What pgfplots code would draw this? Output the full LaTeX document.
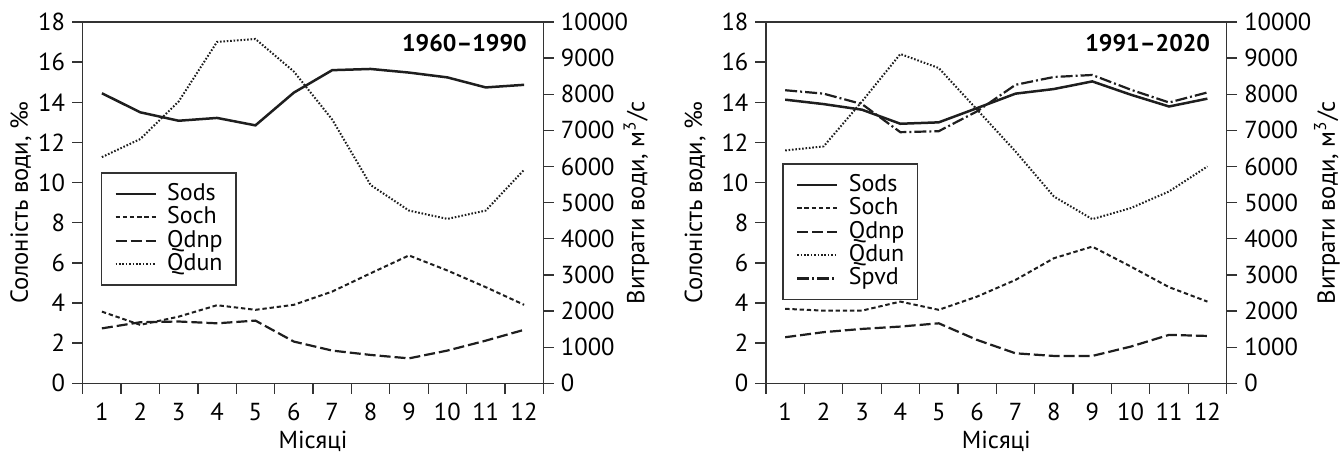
\documentclass[border=0pt]{standalone}
\usepackage{fontspec}
\setmainfont{PT Sans}
\usepackage{pgfplots}
\pgfplotsset{compat=1.18}
\definecolor{ink}{HTML}{1E1E1E}
\definecolor{axc}{HTML}{333333}
\pgfplotsset{
  sods/.style={ink, line width=1.25pt, solid},
  soch/.style={ink, line width=1pt, dash pattern=on 2.2pt off 1.4pt},
  qdnp/.style={ink, line width=1.1pt, dash pattern=on 5.5pt off 2pt},
  qdun/.style={ink, line width=1pt, dash pattern=on 0.8pt off 0.9pt},
  spvd/.style={ink, line width=1.1pt, dash pattern=on 6pt off 1.5pt on 1pt off 1.5pt},
  base/.style={
    scale only axis, width=230.3pt, height=180.65pt,
    xmin=0.5, xmax=12.5, anchor=south west,
    axis line style={axc, line width=0.65pt},
    tick style={axc, line width=0.65pt},
    tick align=outside, major tick length=5.3pt,
    font=\fontsize{12.3}{14}\selectfont,
    tick label style={font=\fontsize{12.3}{14}\selectfont},
    /pgf/number format/assume math mode=true,
    /pgf/number format/1000 sep={},
    scaled y ticks=false,
    legend image code/.code={\draw[##1] (0pt,0pt) -- (20pt,0pt);},
    legend cell align=left,
  },
  leftax/.style={
    base,
    ymin=0, ymax=18, ytick={0,2,...,18}, ytick pos=left,
    xtick={0.5,1.5,...,12.5}, xticklabels={}, xtick pos=left,
    extra x ticks={1,2,3,4,5,6,7,8,9,10,11,12},
    extra x tick labels={1,2,3,4,5,6,7,8,9,10,11,12},
    extra x tick style={major tick length=0pt, tick style={draw=none}},
    xticklabel style={yshift=-6.3pt},
    xlabel={Місяці},
    xlabel style={at={(axis description cs:0.5,-0.161)}, anchor=center},
    ylabel={Солоність води, ‰},
  },
  rightax/.style={
    base,
    ymin=0, ymax=10000, ytick={0,1000,...,10000},
    axis y line*=right, axis x line=none,
    ylabel={Витрати води, м\textsuperscript{3}/с},
    legend style={anchor=north west, draw=axc, line width=0.65pt, fill=white,
      inner xsep=6.5pt, inner ysep=4.6pt, row sep=0pt, column sep=5pt,
      nodes={inner sep=0.2pt, text height=8.9pt, text depth=2.4pt},
      font=\fontsize{12}{14}\selectfont},
  },
}
\begin{document}
\begin{tikzpicture}
\useasboundingbox (0,0) rectangle (671.5pt,226.5pt);
% ---------------- left panel: 1960-1990 ----------------
\begin{axis}[leftax, at={(41.35pt,34.85pt)},
  ylabel style={at={(axis description cs:-0.134,0.5)}, anchor=center}]
\addplot[sods] coordinates {(1,14.45)(2,13.50)(3,13.08)(4,13.22)(5,12.85)(6,14.48)(7,15.60)(8,15.66)(9,15.48)(10,15.24)(11,14.74)(12,14.87)};
\addplot[soch] coordinates {(1,3.57)(2,2.91)(3,3.32)(4,3.89)(5,3.66)(6,3.91)(7,4.57)(8,5.48)(9,6.37)(10,5.62)(11,4.79)(12,3.91)};
\node[anchor=east, inner sep=0pt, font=\bfseries\fontsize{12}{14}\selectfont] at (rel axis cs:0.965,0.942) {1960–1990};
\end{axis}
\begin{axis}[rightax, at={(41.35pt,34.85pt)},
  ylabel style={at={(axis description cs:1.202,0.5)}, anchor=center},
  legend style={at={(axis description cs:0.039,0.5836)}}]
\addlegendimage{sods}\addlegendentry{Sods}
\addlegendimage{soch}\addlegendentry{Soch}
\addplot[qdnp] coordinates {(1,1520)(2,1690)(3,1710)(4,1660)(5,1735)(6,1155)(7,905)(8,785)(9,690)(10,905)(11,1180)(12,1480)};
\addlegendentry{Qdnp}
\addplot[qdun] coordinates {(1,6260)(2,6760)(3,7800)(4,9450)(5,9530)(6,8630)(7,7300)(8,5490)(9,4780)(10,4550)(11,4780)(12,5910)};
\addlegendentry{Qdun}
\end{axis}
% ---------------- right panel: 1991-2020 ----------------
\begin{axis}[leftax, at={(383pt,34.85pt)},
  ylabel style={at={(axis description cs:-0.154,0.5)}, anchor=center}]
\addplot[sods] coordinates {(1,14.13)(2,13.91)(3,13.63)(4,12.93)(5,13.00)(6,13.71)(7,14.43)(8,14.66)(9,15.04)(10,14.38)(11,13.79)(12,14.18)};
\addplot[soch] coordinates {(1,3.71)(2,3.62)(3,3.62)(4,4.07)(5,3.66)(6,4.32)(7,5.15)(8,6.23)(9,6.81)(10,5.82)(11,4.79)(12,4.07)};
\addplot[spvd] coordinates {(1,14.60)(2,14.43)(3,13.91)(4,12.51)(5,12.56)(6,13.55)(7,14.87)(8,15.26)(9,15.36)(10,14.63)(11,13.99)(12,14.49)};
\node[anchor=east, inner sep=0pt, font=\bfseries\fontsize{12}{14}\selectfont] at (rel axis cs:0.965,0.942) {1991–2020};
\end{axis}
\begin{axis}[rightax, at={(383pt,34.85pt)},
  ylabel style={at={(axis description cs:1.218,0.5)}, anchor=center},
  legend style={at={(axis description cs:0.0354,0.609)}}]
\addlegendimage{sods}\addlegendentry{Sods}
\addlegendimage{soch}\addlegendentry{Soch}
\addplot[qdnp] coordinates {(1,1275)(2,1415)(3,1505)(4,1570)(5,1660)(6,1200)(7,830)(8,757)(9,757)(10,1015)(11,1340)(12,1310)};
\addlegendentry{Qdnp}
\addplot[qdun] coordinates {(1,6445)(2,6556)(3,7800)(4,9114)(5,8726)(6,7572)(7,6417)(8,5170)(9,4543)(10,4848)(11,5309)(12,6002)};
\addlegendentry{Qdun}
\addlegendimage{spvd}\addlegendentry{Spvd}
\end{axis}
\end{tikzpicture}
\end{document}
